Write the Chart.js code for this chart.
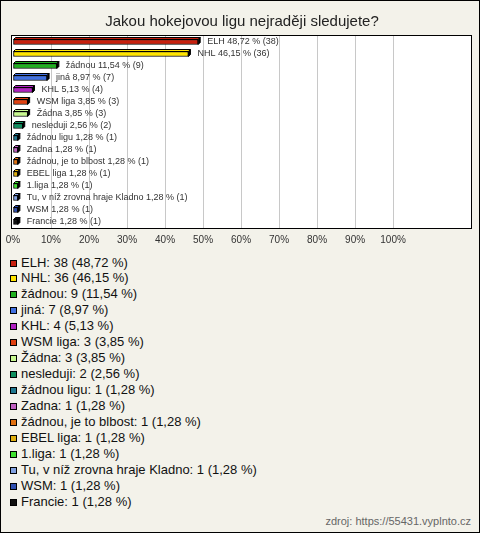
<!DOCTYPE html>
<html>
<head>
<meta charset="utf-8">
<script src="https://cdn.jsdelivr.net/npm/chart.js@4"></script>
<style>
  body { margin: 0; background: #fff; }
  #wrap {
    position: relative; width: 480px; height: 533px; box-sizing: border-box;
    border: 1px solid #000; background: #f3f2ea; overflow: hidden;
    font-family: Arial, "Liberation Sans", sans-serif;
  }
  #graf { position: absolute; left: -1px; top: -1px; }
  #legenda { position: absolute; left: 9px; top: 253.5px; margin: 0; padding: 0; list-style: none; }
  #legenda li { height: 15.95px; line-height: 16px; font-size: 13px; color: #111; white-space: nowrap; }
  #legenda span {
    display: inline-block; width: 5px; height: 5px; border: 1px solid #000;
    margin-right: 4px; vertical-align: 0px;
  }
  #zdroj { position: absolute; right: 8px; top: 514px; font-size: 11px; color: #666; }
</style>
</head>
<body>
<div id="wrap">
  <canvas id="graf" width="480" height="252"></canvas>
  <ul id="legenda"></ul>
  <div id="zdroj">zdroj: https://55431.vyplnto.cz</div>
</div>
<script>
const kategorie = ['ELH', 'NHL', 'žádnou', 'jiná', 'KHL', 'WSM liga', 'Žádna', 'nesleduji',
  'žádnou ligu', 'Zadna', 'žádnou, je to blbost', 'EBEL liga', '1.liga',
  'Tu, v níž zrovna hraje Kladno', 'WSM', 'Francie'];
const pocty = [38, 36, 9, 7, 4, 3, 3, 2, 1, 1, 1, 1, 1, 1, 1, 1];
const procenta = [48.72, 46.15, 11.54, 8.97, 5.13, 3.85, 3.85, 2.56, 1.28, 1.28, 1.28, 1.28, 1.28, 1.28, 1.28, 1.28];
const barvy = ['#c8200e', '#ffe400', '#20b020', '#4070e0', '#b020c0', '#e04010', '#c8f890', '#109060',
  '#207890', '#c060c0', '#e07010', '#e0b010', '#40e030', '#80a0e0', '#3050b0', '#101010'];
const osaTicks = [0, 10, 20, 30, 40, 50, 60, 70, 80, 90, 100];

const formatCislo = (v) => v.toFixed(2).replace('.', ',');

// bile pozadi a ramecek kolem grafu
const ramecek = {
  id: 'ramecek',
  beforeDraw(chart) {
    const a = chart.chartArea;
    const ctx = chart.ctx;
    ctx.save();
    ctx.fillStyle = '#fff';
    ctx.fillRect(a.left - 2, Math.round(a.top) - 1, a.right - a.left + 3, a.bottom - Math.round(a.top) + 2);
    ctx.restore();
  },
  afterDraw(chart) {
    const a = chart.chartArea;
    const ctx = chart.ctx;
    const top = Math.round(a.top) - 0.5;
    ctx.save();
    ctx.strokeStyle = '#000';
    ctx.lineWidth = 1;
    ctx.strokeRect(a.left - 1.5, top, a.right - a.left + 2, a.bottom + 0.5 - top);
    ctx.restore();
  }
};

// 3D hrany sloupcu a popisky
const sloupce3d = {
  id: 'sloupce3d',
  afterDatasetsDraw(chart) {
    const ctx = chart.ctx;
    const meta = chart.getDatasetMeta(0);
    const d = 2;
    ctx.save();
    meta.data.forEach((bar, i) => {
      const p = bar.getProps(['x', 'y', 'base', 'height'], true);
      const top = p.y - p.height / 2;
      const bottom = p.y + p.height / 2;
      ctx.lineWidth = 1;
      ctx.strokeStyle = '#000';
      ctx.fillStyle = barvy[i];
      ctx.beginPath();
      ctx.moveTo(p.base, top);
      ctx.lineTo(p.base + d, top - d);
      ctx.lineTo(p.x + d, top - d);
      ctx.lineTo(p.x, top);
      ctx.closePath();
      ctx.fill();
      ctx.stroke();
      ctx.fillStyle = '#000';
      ctx.beginPath();
      ctx.moveTo(p.x, top);
      ctx.lineTo(p.x + d, top - d);
      ctx.lineTo(p.x + d, bottom - d);
      ctx.lineTo(p.x, bottom);
      ctx.closePath();
      ctx.fill();
      ctx.stroke();

      ctx.font = '9px Arial, "Liberation Sans", sans-serif';
      ctx.fillStyle = '#333';
      ctx.textBaseline = 'middle';
      ctx.fillText(kategorie[i] + ' ' + formatCislo(procenta[i]) + ' % (' + pocty[i] + ')', p.x + 9, p.y);
    });
    ctx.restore();
  }
};

new Chart(document.getElementById('graf'), {
  type: 'bar',
  data: {
    labels: kategorie,
    datasets: [{
      data: procenta,
      backgroundColor: barvy,
      borderColor: '#000',
      borderWidth: 1,
      borderSkipped: false,
      barThickness: 5
    }]
  },
  options: {
    indexAxis: 'y',
    responsive: false,
    animation: false,
    layout: { padding: { left: 13, right: 9, top: 0, bottom: 0 } },
    plugins: {
      legend: { display: false },
      tooltip: { enabled: false },
      title: {
        display: true,
        text: 'Jakou hokejovou ligu nejraději sledujete?',
        color: '#222',
        font: { size: 15, weight: 'normal', family: 'Arial, "Liberation Sans", sans-serif' },
        padding: { top: 13, bottom: 5 }
      }
    },
    scales: {
      x: {
        min: 0,
        max: 120.5,
        afterBuildTicks: (scale) => { scale.ticks = osaTicks.map(v => ({ value: v })); },
        afterFit: (scale) => { scale.paddingLeft = 0; scale.paddingRight = 0; },
        grid: {
          color: (c) => c.tick && c.tick.value === 0 ? 'rgba(0,0,0,0)' : '#c8c8c8',
          drawTicks: false
        },
        border: { display: false },
        ticks: {
          padding: 6,
          color: '#333',
          font: { size: 10, family: 'Arial, "Liberation Sans", sans-serif' },
          callback: (v) => v + '%',
          maxRotation: 0
        }
      },
      y: { display: false }
    }
  },
  plugins: [ramecek, sloupce3d]
});

// legenda pod grafem
const legenda = document.getElementById('legenda');
kategorie.forEach((k, i) => {
  const li = document.createElement('li');
  li.innerHTML = '<span style="background:' + barvy[i] + '"></span>' + k + ': ' + pocty[i] + ' (' + formatCislo(procenta[i]) + ' %)';
  legenda.appendChild(li);
});
</script>
</body>
</html>
